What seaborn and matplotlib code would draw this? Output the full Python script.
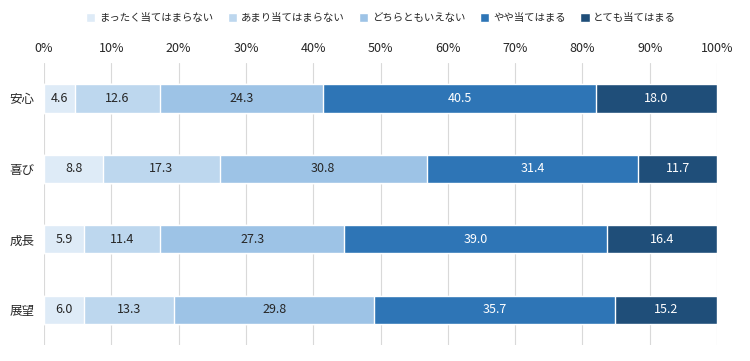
import numpy as np
import pandas as pd
import seaborn as sns
import matplotlib.pyplot as plt
from matplotlib.patches import Patch

# Data
categories = ["安心", "喜び", "成長", "展望"]
series_names = ["まったく当てはまらない", "あまり当てはまらない", "どちらともいえない",
                "やや当てはまる", "とても当てはまる"]
v_none = [4.6, 8.8, 5.9, 6.0]
v_little = [12.6, 17.3, 11.4, 13.3]
v_neutral = [24.3, 30.8, 27.3, 29.8]
v_some = [40.5, 31.4, 39.0, 35.7]
v_very = [18.0, 11.7, 16.4, 15.2]
tick_labels = [f"{i}%" for i in range(0, 101, 10)]

colors = ["#deebf7", "#bdd7ee", "#9dc3e6", "#2e75b6", "#1f4e79"]
text_colors = ["#262626", "#262626", "#262626", "white", "white"]

sns.set_theme(style="white")
plt.rcParams['font.family'] = ['Noto Sans CJK JP', 'DejaVu Sans']

values = np.array([v_none, v_little, v_neutral, v_some, v_very])
cum = values.cumsum(axis=0)

fig = plt.figure(figsize=(7.5, 3.61), dpi=100)
ax = fig.add_axes([0.0587, 0.044, 0.8973, 0.781])

# gridlines behind bars
ax.set_axisbelow(True)
ax.grid(axis="x", color="#d9d9d9", linewidth=0.8)

# stacked bars: draw cumulative totals from largest to smallest
for i in reversed(range(len(series_names))):
    df = pd.DataFrame({"cat": categories, "val": cum[i]})
    sns.barplot(data=df, x="val", y="cat", color=colors[i], width=0.4,
                saturation=1, ax=ax, orient="h")

# segment labels
for i in range(len(series_names)):
    for j, cat in enumerate(categories):
        mid = cum[i][j] - values[i][j] / 2
        ax.text(mid, j, f"{values[i][j]:.1f}", ha="center", va="center",
                fontsize=9, color=text_colors[i])

ax.set_xlim(0, 100)
ax.set_ylim(len(categories) - 0.5, -0.5)
ax.xaxis.tick_top()
ax.set_xticks(range(0, 101, 10))
ax.set_xticklabels(tick_labels, fontsize=9, color="#262626")
ax.tick_params(axis="both", length=0, pad=6)
ax.tick_params(axis="y", labelsize=9, labelcolor="#262626", pad=7)
ax.set_xlabel("")
ax.set_ylabel("")
for s in ax.spines.values():
    s.set_visible(False)

handles = [Patch(facecolor=c, label=n) for c, n in zip(colors, series_names)]
fig.legend(handles=handles, loc="center", bbox_to_anchor=(0.508, 0.95), ncol=5,
           frameon=False, fontsize=7.5, handlelength=0.9, handleheight=0.9,
           handletextpad=0.35, columnspacing=1.4)

fig.savefig("out.png", dpi=100)
